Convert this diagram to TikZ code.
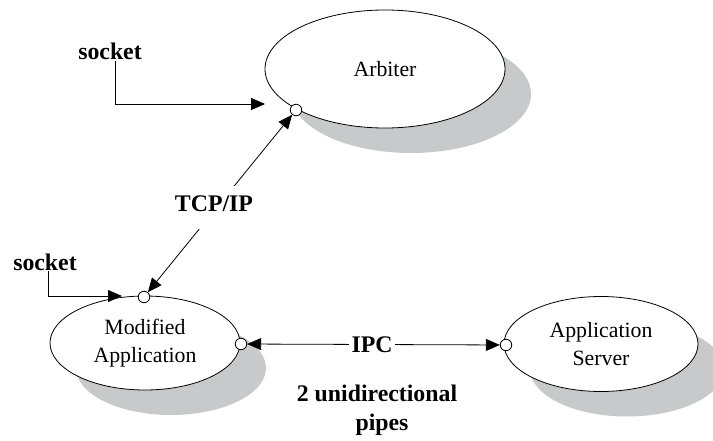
\documentclass[tikz,border=0pt]{standalone}
\usepackage{fontspec}
\setmainfont{Liberation Serif}
\usetikzlibrary{arrows.meta,shapes.geometric,shadows}
\definecolor{shadowgray}{RGB}{200,201,203}

\begin{document}
\begin{tikzpicture}[x=1pt,y=-1pt,
  proc/.style={ellipse, draw, line width=0.8pt, fill=white, inner sep=0pt,
    align=center, font=\fontsize{21.8}{28}\selectfont,
    drop shadow={shadow xshift=26pt, shadow yshift=-25pt, fill=shadowgray, opacity=1}},
  port/.style={circle, draw, fill=white, line width=0.8pt, inner sep=0pt, minimum size=11.5pt},
  lbl/.style={font=\bfseries\fontsize{23.8}{28.5}\selectfont, inner sep=1pt},
  ptip/.tip={Triangle[length=14pt,width=12pt]},
  link/.style={line width=0.8pt, -ptip},
  duplex/.style={line width=0.8pt, ptip-ptip},
]
\useasboundingbox (0,0) rectangle (713,441);

% processes
\node[proc, minimum width=240pt, minimum height=118pt] (arb) at (385,69) {Arbiter};
\node[proc, minimum width=190pt, minimum height=94pt] (mod) at (145,343) {Modified\\Application};
\node[proc, minimum width=194pt, minimum height=95pt] (srv) at (601,344) {Application\\Server};

% socket ports
\node[port] (pa) at (296,110) {};
\node[port] (pm) at (144,297) {};
\node[port] (pr) at (241,344) {};
\node[port] (ps) at (506,345) {};

% socket callouts
\node[lbl, anchor=base] (s1) at (110,60) {socket};
\node[lbl, anchor=base] (s2) at (45,270) {socket};
\coordinate (s1end) at (265,104);
\coordinate (s2end) at (122,296);
\draw[link] ([xshift=5pt]s1.south) |- (s1end);
\draw[link] ([xshift=3pt]s2.south) |- (s2end);

% TCP/IP link between application and arbiter
\draw[duplex] (pm) -- (pa);
\node[lbl, anchor=base, fill=white, inner xsep=2pt, inner ysep=10pt, text depth=8pt] (tcp) at (214,211.5) {TCP/IP};

% IPC link between application and server
\draw[duplex] (pr) -- (ps);
\node[lbl, anchor=base, fill=white, inner xsep=3pt, inner ysep=2pt] (ipc) at (372,352) {IPC};

% pipe note
\node[lbl, anchor=base] (u1) at (377,401.5) {2 unidirectional};
\node[lbl, anchor=base] (u2) at (382,430) {pipes};
\end{tikzpicture}
\end{document}
